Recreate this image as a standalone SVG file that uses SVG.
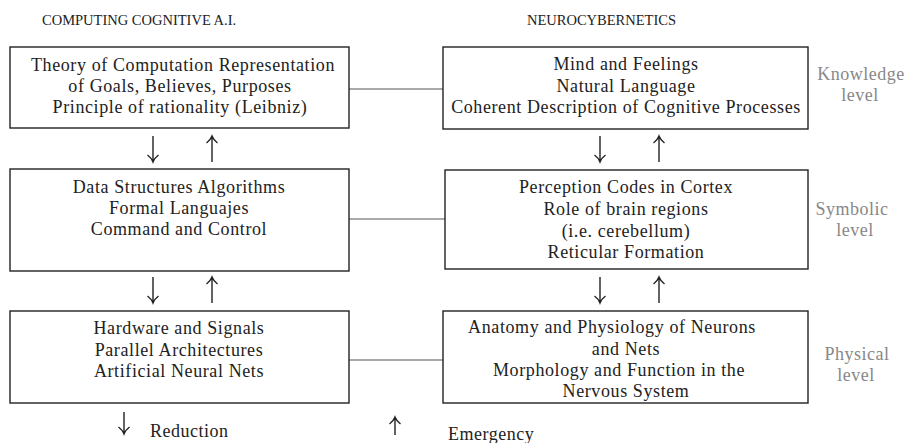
<svg xmlns="http://www.w3.org/2000/svg" width="906" height="443" viewBox="0 0 906 443">
<style>
text{font-family:"Liberation Serif","DejaVu Serif",serif;fill:#222}
.t{font-size:18px;letter-spacing:0.6px;text-anchor:middle}
.h{font-size:14.5px}
.lv{font-size:18px;letter-spacing:0.5px;text-anchor:middle;fill:#888}
.lg{font-size:18px;letter-spacing:0.5px}
.box{fill:#fff;stroke:#222;stroke-width:1.4}
.con{stroke:#555;stroke-width:1.1;fill:none}
.ar{stroke:#222;stroke-width:1.4;fill:none}
</style>
<defs>
<path id="dn" class="ar" d="M0,-26V0M-5.5,-7Q-1.5,-4 0,0Q1.5,-4 5.5,-7"/>
<path id="up" class="ar" d="M0,26V0M-5.5,7Q-1.5,4 0,0Q1.5,4 5.5,7"/>
</defs>
<text class="h" x="42" y="25">COMPUTING COGNITIVE A.I.</text>
<text class="h" x="527" y="25">NEUROCYBERNETICS</text>
<g id="connectors">
<line class="con" x1="349" y1="89" x2="443" y2="89"/>
<line class="con" x1="349" y1="219" x2="445" y2="219"/>
<line class="con" x1="349" y1="360" x2="443" y2="360"/>
<use href="#dn" x="153" y="162"/>
<use href="#up" x="212" y="136"/>
<use href="#dn" x="600" y="162"/>
<use href="#up" x="659" y="136"/>
<use href="#dn" x="153" y="303"/>
<use href="#up" x="212" y="277"/>
<use href="#dn" x="600" y="303"/>
<use href="#up" x="659" y="277"/>
</g>
<g id="ai-knowledge">
<rect class="box" x="10" y="47" width="339" height="81"/>
<text class="t" x="183" y="71">Theory of Computation Representation</text>
<text class="t" x="180" y="92">of Goals, Believes, Purposes</text>
<text class="t" x="180" y="113">Principle of rationality (Leibniz)</text>
</g>
<g id="neuro-knowledge">
<rect class="box" x="443" y="47" width="365" height="82"/>
<text class="t" x="626" y="70">Mind and Feelings</text>
<text class="t" x="626" y="92">Natural Language</text>
<text class="t" x="626" y="113">Coherent Description of Cognitive Processes</text>
</g>
<g id="ai-symbolic">
<rect class="box" x="10" y="169" width="339" height="102"/>
<text class="t" x="179" y="193">Data Structures Algorithms</text>
<text class="t" x="179" y="214">Formal Languajes</text>
<text class="t" x="179" y="235">Command and Control</text>
</g>
<g id="neuro-symbolic">
<rect class="box" x="445" y="170" width="363" height="99"/>
<text class="t" x="626" y="193">Perception Codes in Cortex</text>
<text class="t" x="626" y="215">Role of brain regions</text>
<text class="t" x="626" y="237">(i.e. cerebellum)</text>
<text class="t" x="626" y="258">Reticular Formation</text>
</g>
<g id="ai-physical">
<rect class="box" x="10" y="311" width="339" height="92"/>
<text class="t" x="179" y="334">Hardware and Signals</text>
<text class="t" x="179" y="356">Parallel Architectures</text>
<text class="t" x="179" y="377">Artificial Neural Nets</text>
</g>
<g id="neuro-physical">
<rect class="box" x="443" y="311" width="365" height="92"/>
<text class="t" x="612" y="333">Anatomy and Physiology of Neurons</text>
<text class="t" x="626" y="355">and Nets</text>
<text class="t" x="619" y="376">Morphology and Function in the</text>
<text class="t" x="626" y="397">Nervous System</text>
</g>
<g id="levels">
<text class="lv" x="861" y="80">Knowledge</text>
<text class="lv" x="860" y="101">level</text>
<text class="lv" x="852" y="215">Symbolic</text>
<text class="lv" x="855" y="236">level</text>
<text class="lv" x="857" y="360">Physical</text>
<text class="lv" x="856" y="381">level</text>
</g>
<g id="legend">
<path class="ar" d="M124,412V434M118.5,427Q122.5,430 124,434Q125.5,430 129.5,427"/>
<text class="lg" x="150" y="437">Reduction</text>
<path class="ar" d="M395,435V417M389.5,424Q393.5,421 395,417Q396.5,421 400.5,424"/>
<text class="lg" x="448" y="440">Emergency</text>
</g>
</svg>
